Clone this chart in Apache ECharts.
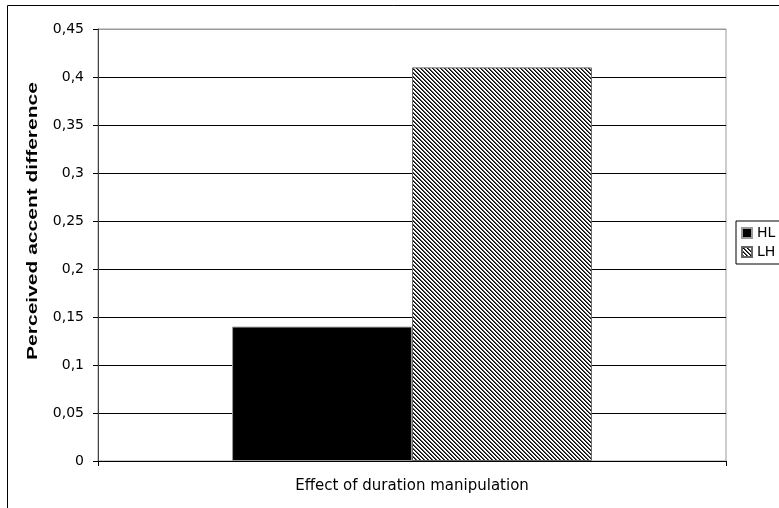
<!DOCTYPE html>
<html><head><meta charset="utf-8">
<script src="https://cdn.jsdelivr.net/npm/echarts@6/dist/echarts.min.js"></script>
<style>html,body{margin:0;padding:0;background:#fff}#c{width:779px;height:508px}</style>
</head><body><div id="c"></div>
<script>
const categories = ['Effect of duration manipulation'];
const seriesNames = ['HL', 'LH'];
const hlValues = [0.14];
const lhValues = [0.41];
const yTicks = ['0','0,05','0,1','0,15','0,2','0,25','0,3','0,35','0,4','0,45'];
const yTitle = 'Perceived accent difference';

function stripePattern() {
  const c = document.createElement('canvas');
  c.width = 4; c.height = 4;
  const ctx = c.getContext('2d');
  ctx.fillStyle = '#fff'; ctx.fillRect(0,0,4,4);
  for (let y = 0; y < 4; y++) for (let x = 0; x < 4; x++) {
    const d = ((x - y) % 4 + 4) % 4;
    if (d === 0) { ctx.fillStyle = '#000'; ctx.fillRect(x,y,1,1); }
    else if (d === 1) { ctx.fillStyle = '#555'; ctx.fillRect(x,y,1,1); }
  }
  return c;
}
const pat = { image: stripePattern(), repeat: 'repeat' };
const font = 'DejaVu Sans';
const chart = echarts.init(document.getElementById('c'), null, {renderer: 'canvas'});
chart.setOption({
  animation: false,
  backgroundColor: '#fff',
  textStyle: { fontFamily: font },
  graphic: [
    { type: 'rect', shape: { x: 7.5, y: 5.5, width: 800, height: 530 }, style: { fill: null, stroke: '#000', lineWidth: 1 }, z: -1 },
    { type: 'text', x: 33, y: 221, rotation: Math.PI / 2, scaleX: 1.4,
      style: { text: yTitle, font: 'bold 15px "Liberation Sans"', fill: '#000', align: 'center', verticalAlign: 'middle' } }
  ],
  grid: { left: 98, right: 53, top: 29, bottom: 47, show: true, borderColor: '#999', borderWidth: 1 },
  legend: {
    data: seriesNames, orient: 'vertical', left: 736, top: 221,
    itemWidth: 10, itemHeight: 10, itemGap: 3, padding: [4, 10, 4, 5],
    borderColor: '#000', borderWidth: 1, borderRadius: 0,
    textStyle: { fontFamily: font, fontSize: 14, color: '#000', lineHeight: 16 },
    icon: 'rect'
  },
  xAxis: {
    type: 'category', data: categories,
    axisLine: { lineStyle: { color: '#000' } },
    axisTick: { show: true, length: 5, lineStyle: { color: '#000' } },
    axisLabel: { fontFamily: font, fontSize: 15, color: '#000', margin: 18 }
  },
  yAxis: {
    type: 'value', min: 0, max: 0.45, interval: 0.05,
    axisLine: { show: true, lineStyle: { color: '#444' } },
    axisTick: { show: true, length: 5, lineStyle: { color: '#000' } },
    axisLabel: { fontFamily: font, fontSize: 14, color: '#000', margin: 14,
      formatter: (v) => yTicks[Math.round(v / 0.05)] },
    splitLine: { show: true, lineStyle: { color: ['#000','#000','#000','#000','#000','#000','#000','#000','#000','#999'] } }
  },
  series: [
    { name: seriesNames[0], type: 'bar', data: hlValues, barGap: '0%', barCategoryGap: '42.7%',
      itemStyle: { color: '#000', borderColor: '#999', borderWidth: 1 } },
    { name: seriesNames[1], type: 'bar', data: lhValues,
      itemStyle: { color: pat, borderColor: '#666', borderWidth: 1 } }
  ]
});
</script></body></html>
